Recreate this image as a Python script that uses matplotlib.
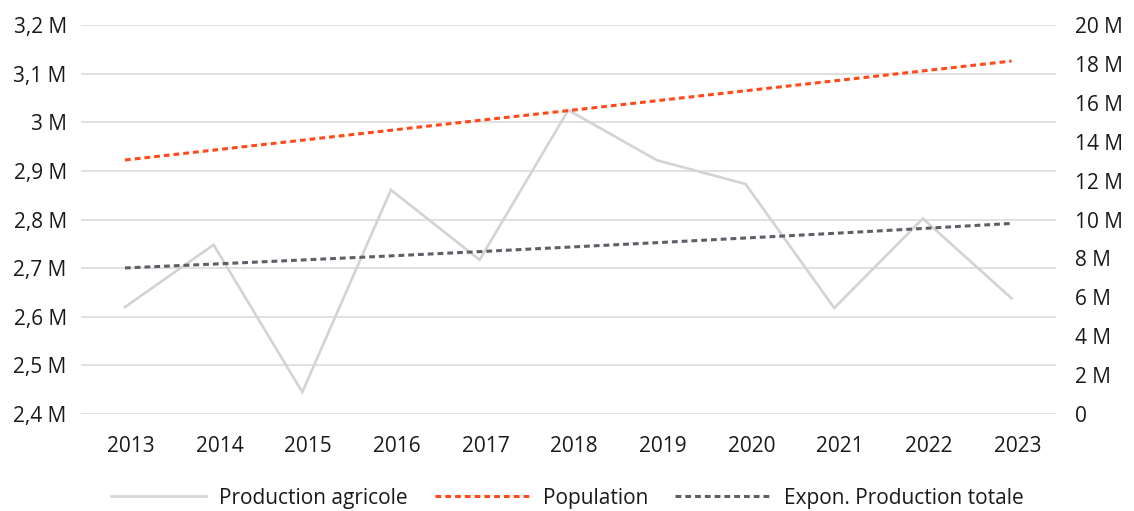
import matplotlib.pyplot as plt
import matplotlib.transforms as mtransforms
import numpy as np
from matplotlib.ticker import FuncFormatter, MultipleLocator

plt.rcParams["font.family"] = ["Open Sans", "DejaVu Sans"]

years = ["2013", "2014", "2015", "2016", "2017", "2018", "2019", "2020", "2021", "2022", "2023"]
# production agricole (left axis)
prod_agricole = [2.620e6, 2.748e6, 2.445e6, 2.861e6, 2.717e6, 3.025e6, 2.922e6, 2.873e6, 2.618e6, 2.802e6, 2.638e6]
# population and exponential trend of total production (right axis)
population = [13.06e6, 13.57e6, 14.08e6, 14.59e6, 15.10e6, 15.60e6, 16.11e6, 16.62e6, 17.13e6, 17.64e6, 18.15e6]
expon_prod_totale = [7.51e6, 7.71e6, 7.92e6, 8.13e6, 8.35e6, 8.58e6, 8.81e6, 9.05e6, 9.29e6, 9.54e6, 9.80e6]


def fmt_millions(v, pos):
    if abs(v) < 1e-9:
        return "0"
    s = "%g" % round(v / 1e6, 2)
    return s.replace(".", ",") + " M"


fig = plt.figure(figsize=(11.34, 5.11), dpi=100)
ax = fig.add_axes([0.0711, 0.1898, 0.8600, 0.7612])
ax2 = ax.twinx()

x = np.arange(len(years))
text_col = "#1a1a1a"

l1, = ax.plot(x, prod_agricole, color="#d3d3d3", lw=1.9, solid_joinstyle="miter",
              label="Production agricole", zorder=3)
l2, = ax2.plot(x, population, color="#ff4a1c", lw=2.2, linestyle=(0, (1.9, 1.3)),
               label="Population", zorder=3)
l3, = ax2.plot(x, expon_prod_totale, color="#5e5e66", lw=2.2, linestyle=(0, (1.9, 1.3)),
               label="Expon. Production totale", zorder=3)

ax.set_xlim(-0.5, len(years) - 0.5)
ax.set_ylim(2.4e6, 3.2e6)
ax2.set_ylim(0, 20e6)
ax.yaxis.set_major_locator(MultipleLocator(0.1e6))
ax2.yaxis.set_major_locator(MultipleLocator(2e6))
ax.yaxis.set_major_formatter(FuncFormatter(fmt_millions))
ax2.yaxis.set_major_formatter(FuncFormatter(fmt_millions))
ax.set_xticks(x)
ax.set_xticklabels(years)

ax.grid(axis="y", color="#d9d9d9", lw=1.1)
ax.set_axisbelow(True)
for a in (ax, ax2):
    for sp in a.spines.values():
        sp.set_visible(False)
ax.tick_params(axis="x", length=0, pad=16, labelsize=15, labelcolor=text_col)
ax.tick_params(axis="y", length=0, pad=10, labelsize=15, labelcolor=text_col)
ax2.tick_params(axis="y", length=0, pad=14, labelsize=15, labelcolor=text_col)

# year labels sit a little right of the data points
shift = mtransforms.ScaledTranslation(6 / 100, 0, fig.dpi_scale_trans)
for lab in ax.get_xticklabels():
    lab.set_transform(lab.get_transform() + shift)

fig.legend(handles=[l1, l2, l3], loc="center", bbox_to_anchor=(0.5, 0.025), ncol=3,
           frameon=False, fontsize=15, handlelength=4.6, handletextpad=0.6,
           columnspacing=1.3, labelcolor=text_col)

fig.savefig("out.png", dpi=100)
